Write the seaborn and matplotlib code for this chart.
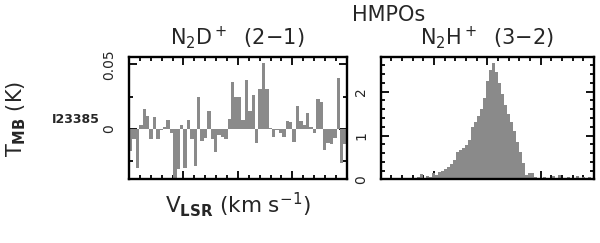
import numpy as np
import pandas as pd
import seaborn as sns
import matplotlib.pyplot as plt
from matplotlib.ticker import MultipleLocator

# N2D+ (2-1) spectrum, channel values in K
n2d_tmb = [-0.017, -0.008, -0.030, 0.003, 0.015, 0.010, -0.008, 0.009,
           -0.008, -0.001, 0.0015, 0.007, -0.003, -0.039, -0.031, 0.003,
           -0.030, 0.007, -0.008, -0.029, 0.025, -0.009, -0.007, 0.014,
           -0.008, -0.018, -0.005, -0.006, -0.008, 0.008, 0.036, 0.025,
           0.025, 0.007, 0.038, 0.014, 0.026, -0.011, 0.031, 0.051,
           0.031, 0.0005, -0.006, -0.001, -0.003, -0.006, 0.006, 0.005,
           -0.010, 0.018, 0.006, 0.003, 0.012, 0.0015, -0.003, 0.023,
           0.021, -0.016, -0.011, -0.012, -0.007, 0.039, -0.026, -0.012]

# N2H+ (3-2) spectrum, channel values in K
n2h_tmb = [0.02, 0.01, 0.02, 0.0, 0.03, 0.01, 0.02, 0.01, 0.03, 0.02,
           0.04, 0.02, 0.05, 0.12, 0.04, 0.08, 0.06, 0.14, 0.10, 0.16,
           0.20, 0.24, 0.28, 0.35, 0.45, 0.62, 0.66, 0.72, 0.78, 0.90,
           1.20, 1.30, 1.45, 1.60, 1.85, 2.25, 2.50, 2.65, 2.45, 2.20,
           1.95, 1.70, 1.50, 1.30, 1.10, 0.85, 0.62, 0.38, 0.10, 0.15,
           0.14, 0.05, 0.04, 0.03, 0.06, 0.02, 0.03, 0.08, 0.03, 0.10,
           0.04, 0.02, 0.05, 0.03, 0.04, 0.07, 0.03, 0.05, 0.04, 0.06, 0.02]

v_range = (-10, 10)
source = 'I23385'
titles = [r'N$_2$D$^+$  (2$-$1)', r'N$_2$H$^+$  (3$-$2)']

sns.set_theme(style='white')
plt.rcParams['font.family'] = ['DejaVu Sans']
plt.rcParams['mathtext.fontset'] = 'dejavusans'

grey = '#8a8a8a'
fig = plt.figure(figsize=(6, 2.43), dpi=100)
ax1 = fig.add_axes([0.215, 0.262, 0.363, 0.503])
ax2 = fig.add_axes([0.6345, 0.262, 0.3555, 0.503])


def draw_spec(ax, vals):
    edges = np.linspace(v_range[0], v_range[1], len(vals) + 1)
    df = pd.DataFrame({'v': 0.5 * (edges[1:] + edges[:-1]), 't': vals})
    sns.histplot(data=df, x='v', weights='t', bins=list(edges),
                 element='step', fill=True, color=grey, alpha=1,
                 linewidth=0, ax=ax)
    ax.set_xlim(*v_range)
    ax.set_xlabel('')
    ax.set_ylabel('')
    ax.xaxis.set_major_locator(MultipleLocator(5))
    ax.xaxis.set_minor_locator(MultipleLocator(1))
    ax.tick_params(which='both', direction='in', top=True, bottom=True,
                   left=True, right=True, labelbottom=False, color='black',
                   width=1.3)
    ax.tick_params(which='major', length=5.5)
    ax.tick_params(which='minor', length=3)
    ax.tick_params(axis='y', labelsize=10, pad=9)
    for s in ax.spines.values():
        s.set_color('black')
        s.set_linewidth(1.7)


draw_spec(ax1, n2d_tmb)
ax1.set_ylim(-0.039, 0.0555)
ax1.yaxis.set_minor_locator(MultipleLocator(0.025))
ax1.set_yticks([0, 0.05])
ax1.set_yticklabels(['0', '0.05'], rotation=90, va='center')

draw_spec(ax2, n2h_tmb)
ax2.set_ylim(0, 2.79)
ax2.yaxis.set_minor_locator(MultipleLocator(0.2))
ax2.set_yticks([0, 1, 2])
ax2.set_yticklabels(['0', '1', '2'], rotation=90, va='center')

fig.text(0.647, 0.94, 'HMPOs', ha='center', va='center', fontsize=15)
fig.text(0.395, 0.845, titles[0], ha='center', va='center', fontsize=15)
fig.text(0.812, 0.845, titles[1], ha='center', va='center', fontsize=15)
fig.text(0.027, 0.51, r'T$_{\mathbf{MB}}$ (K)', rotation=90, ha='center',
         va='center', fontsize=15)
fig.text(0.126, 0.51, source, ha='center', va='center', fontsize=9,
         fontweight='bold')
fig.text(0.397, 0.16, r'V$_{\mathbf{LSR}}$ (km s$^{-1}$)', ha='center',
         va='center', fontsize=15.5)

fig.savefig('out.png', dpi=100)
